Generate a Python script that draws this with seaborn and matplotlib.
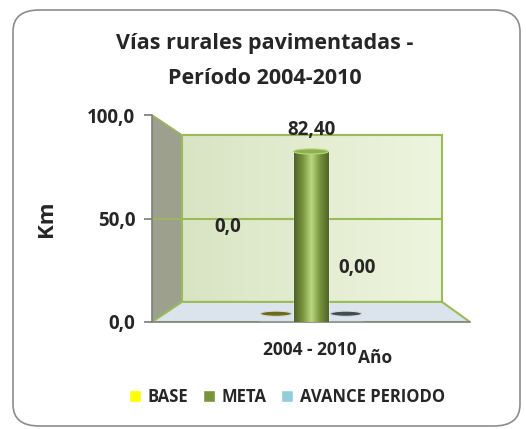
import numpy as np
import pandas as pd
import seaborn as sns
import matplotlib.pyplot as plt
from matplotlib.patches import FancyBboxPatch, Polygon, Ellipse, Patch

# datos
categorias = ["2004 - 2010"]
series = ["BASE", "META", "AVANCE PERIODO"]
valores = [0.0, 82.40, 0.0]
etiquetas = ["0,0", "82,40", "0,00"]
colores = ["#FFFF00", "#77933C", "#92CDDC"]
ticks_y = [0, 50, 100]
ticks_lbl = ["0,0", "50,0", "100,0"]

sns.set_theme(style="white")
plt.rcParams["font.family"] = ["Open Sans", "DejaVu Sans"]
plt.rcParams["font.weight"] = "bold"

df = pd.DataFrame({"Periodo": categorias * len(series), "Serie": series, "Km": valores})

fig = plt.figure(figsize=(5.26, 4.29), dpi=100)
W, H = 526, 429

# marco redondeado
fig.patches.append(FancyBboxPatch((13 / W, 3 / H), 507 / W, 416 / H,
                                  boxstyle="round,pad=0,rounding_size=0.05",
                                  transform=fig.transFigure, fill=False,
                                  edgecolor="#8c8c8c", linewidth=1.2))

ax = fig.add_axes([152 / W, (H - 322) / H, 318 / W, 207 / H])
ax.patch.set_alpha(0)

# paredes "3D"
bx0, bx1, by0, by1 = 0.094, 0.912, 0.097, 0.903
ax.add_patch(Polygon([(0, 0), (bx0, by0), (bx0, by1), (0, 1)], closed=True,
                     transform=ax.transAxes, facecolor="#9ea08e", edgecolor="#8a8a8a",
                     lw=0.8, zorder=0))
grad = np.linspace(0, 1, 256).reshape(1, -1)
ax.imshow(grad, extent=(bx0, bx1, by0, by1), transform=ax.transAxes,
          cmap=plt.matplotlib.colors.LinearSegmentedColormap.from_list(
              "w", ["#d9e4c4", "#eef5de"]), aspect="auto", zorder=0)
ax.add_patch(Polygon([(bx0, by0), (bx1, by0), (bx1, by1), (bx0, by1)], closed=True,
                     transform=ax.transAxes, fill=False, edgecolor="#9bbb59", lw=1.5, zorder=1))
ax.plot([bx0, bx1], [(by0 + by1) / 2] * 2, transform=ax.transAxes, color="#9bbb59", lw=1.5, zorder=1)
ax.plot([0, bx0], [0.5, (by0 + by1) / 2], transform=ax.transAxes, color="#9bbb59", lw=1.2, zorder=1)
ax.plot([0, bx0], [1, by1], transform=ax.transAxes, color="#9bbb59", lw=1.2, zorder=1)
ax.add_patch(Polygon([(0, 0), (1, 0), (bx1, by0), (bx0, by0)], closed=True,
                     transform=ax.transAxes, facecolor="#dbe4ec", edgecolor="#9bbb59",
                     lw=1.5, zorder=1))

sns.barplot(data=df, x="Periodo", y="Km", hue="Serie", palette=colores,
            width=0.33, ax=ax, legend=False, zorder=3)
ax.set_xlim(-0.5, 0.5)
ax.set_ylim(0, 100)

# sombreado cilíndrico y discos de valor cero
shade = plt.matplotlib.colors.LinearSegmentedColormap.from_list(
    "c", ["#4f6228", "#77933C", "#b9d97f", "#77933C", "#4f6228"])
disco = ["#6b6b1a", "#77933C", "#3d4f55"]
for p, v, c in zip(ax.patches[-3:], valores, disco):
    x0, w = p.get_x(), p.get_width()
    if v > 0:
        p.set_facecolor("none")
        img = ax.imshow(grad, extent=(x0, x0 + w, 0, v), cmap=shade, aspect="auto", zorder=3)
        img.set_clip_path(p)
        ax.add_patch(Ellipse((x0 + w / 2, v), w, 2.5, facecolor="#8fb04a", edgecolor="#b9d97f",
                             lw=0.8, zorder=4))
    else:
        ax.add_patch(Ellipse((x0 + w / 2, 4), w * 0.9, 2.5, facecolor=c, edgecolor="#d8d8d8",
                             lw=0.8, zorder=4))

ax.text(0.195, 0.435, etiquetas[0], transform=ax.transAxes, fontsize=13.5, fontweight="bold")
ax.text(0.5, 0.905, etiquetas[1], transform=ax.transAxes, fontsize=13.5, fontweight="bold", ha="center")
ax.text(0.585, 0.235, etiquetas[2], transform=ax.transAxes, fontsize=13.5, fontweight="bold")

ax.set_yticks(ticks_y)
ax.set_yticklabels(ticks_lbl, fontsize=13.5, fontweight="bold")
ax.set_xticks([])
ax.set_xlabel("")
ax.set_ylabel("Km", fontsize=16, fontweight="bold", labelpad=22)
ax.tick_params(axis="y", length=6, color="#808080", left=True, pad=6)
for s in ["top", "right"]:
    ax.spines[s].set_visible(False)
for s in ["left", "bottom"]:
    ax.spines[s].set_color("#808080")
    ax.spines[s].set_linewidth(1.2)

fig.text(357 / W, 1 - 350 / H, categorias[0], fontsize=12.5, fontweight="bold", ha="right", va="center")
fig.text(358 / W, 1 - 358 / H, "Año", fontsize=12.5, fontweight="bold", ha="left", va="center")

fig.suptitle("Vías rurales pavimentadas -\nPeríodo 2004-2010", x=265 / W, y=1 - 33 / H,
             fontsize=15.5, fontweight="bold", linespacing=1.9)

handles = [Patch(facecolor=c, label=s) for c, s in zip(colores, series)]
fig.legend(handles=handles, loc="center", bbox_to_anchor=(287 / W, 1 - 397 / H), ncol=3,
           frameon=False, handlelength=0.7, handleheight=0.7,
           handletextpad=0.4, columnspacing=0.9, prop={"weight": "bold", "size": 12})

fig.savefig("out.png", dpi=100)
